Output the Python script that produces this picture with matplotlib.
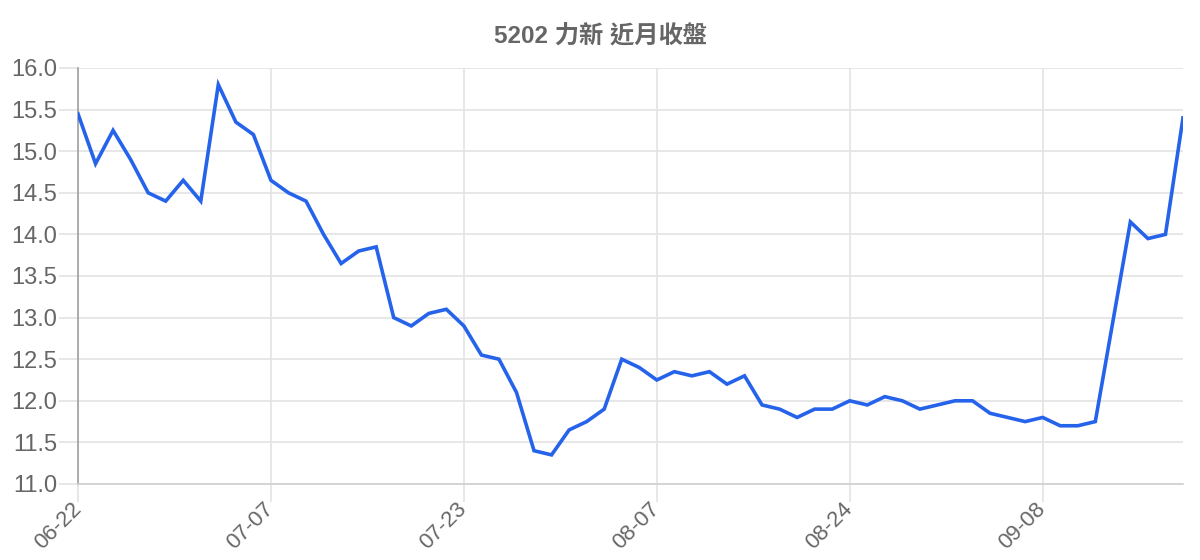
import matplotlib
matplotlib.use("Agg")
import matplotlib.pyplot as plt

dates = [
    "06-22", "06-23", "06-24", "06-25", "06-28", "06-29", "06-30", "07-01", "07-02", "07-05", "07-06",
    "07-07", "07-08", "07-09", "07-12", "07-13", "07-14", "07-15", "07-16", "07-19", "07-20", "07-21",
    "07-23", "07-26", "07-27", "07-28", "07-29", "07-30", "08-02", "08-03", "08-04", "08-05", "08-06",
    "08-07", "08-09", "08-10", "08-11", "08-12", "08-13", "08-16", "08-17", "08-18", "08-19", "08-20",
    "08-24", "08-25", "08-26", "08-27", "08-30", "08-31", "09-01", "09-02", "09-03", "09-06", "09-07",
    "09-08", "09-09", "09-10", "09-13", "09-14", "09-15", "09-16", "09-17", "09-20",
]
close = [
    15.45, 14.85, 15.25, 14.9, 14.5, 14.4, 14.65, 14.4, 15.8, 15.35, 15.2,
    14.65, 14.5, 14.4, 14.0, 13.65, 13.8, 13.85, 13.0, 12.9, 13.05, 13.1,
    12.9, 12.55, 12.5, 12.1, 11.4, 11.35, 11.65, 11.75, 11.9, 12.5, 12.4,
    12.25, 12.35, 12.3, 12.35, 12.2, 12.3, 11.95, 11.9, 11.8, 11.9, 11.9,
    12.0, 11.95, 12.05, 12.0, 11.9, 11.95, 12.0, 12.0, 11.85, 11.8, 11.75,
    11.8, 11.7, 11.7, 11.75, 12.95, 14.15, 13.95, 14.0, 15.4,
]
y_ticks = [11.0, 11.5, 12.0, 12.5, 13.0, 13.5, 14.0, 14.5, 15.0, 15.5, 16.0]
title = "5202 力新 近月收盤"

plt.rcParams["font.family"] = ["Liberation Sans", "Noto Sans CJK TC", "DejaVu Sans"]

fig = plt.figure(figsize=(12, 5.6), dpi=100)
ax = fig.add_axes([78 / 1200, 1 - 484 / 560, 1105 / 1200, 416 / 560])

x = list(range(len(close)))
ax.plot(x, close, color="#2563eb", lw=2.6, solid_joinstyle="miter", zorder=3)

ax.set_xlim(0, len(close) - 1)
ax.set_ylim(11, 16)
ax.set_yticks(y_ticks)
ax.set_yticklabels([f"{v:.1f}" for v in y_ticks])
step = 11
ax.set_xticks(x[::step])
ax.set_xticklabels(dates[::step], rotation=45, ha="right", va="center",
                   rotation_mode="anchor")

grid_c = "#e3e3e3"
ax.grid(True, color=grid_c, lw=1.2, zorder=0)
ax.tick_params(axis="both", colors=grid_c, width=1.2, labelcolor="#666666")
ax.tick_params(axis="x", length=13, pad=3, labelsize=16)
ax.tick_params(axis="y", length=14, pad=1, labelsize=17)
for sp in ("top", "right"):
    ax.spines[sp].set_visible(False)
ax.spines["bottom"].set_color("#d0d0d0")
ax.spines["bottom"].set_linewidth(1.2)
ax.spines["left"].set_color("#a0a0a0")
ax.spines["left"].set_linewidth(1.2)
ax.xaxis.get_major_ticks()[0].tick1line.set_color("#a0a0a0")

fig.text(0.5, 1 - 35.5 / 560, title, ha="center", va="center",
         fontsize=17.5, fontweight="bold", color="#666666")

fig.savefig("out.png", dpi=100, facecolor="white")
